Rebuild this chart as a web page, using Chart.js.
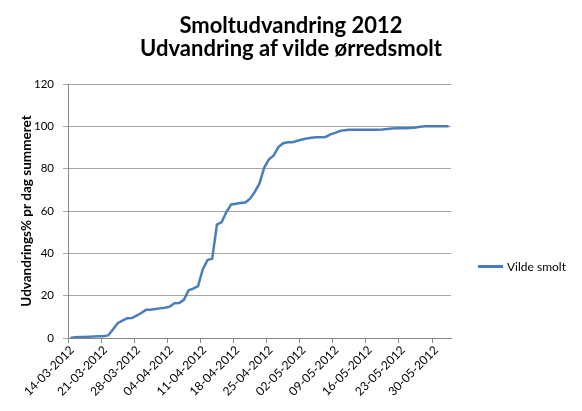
<!DOCTYPE html>
<html><head><meta charset="utf-8">
<script src="https://cdn.jsdelivr.net/npm/chart.js@4"></script>
<style>
html,body{margin:0;padding:0;background:#fff;width:582px;height:411px;overflow:hidden}
#wrap{position:relative;width:582px;height:411px}
#title{position:absolute;left:0;top:0;width:582px;text-align:center;font:bold 22px Lato,sans-serif;color:#000;line-height:23px;padding-top:13px}
#legend{position:absolute;left:478px;top:259px;font:12px Lato,sans-serif;color:#000;display:flex;align-items:center;white-space:nowrap}
#legend .l{display:inline-block;width:25px;height:3px;background:#4a7ebb;margin-right:4px}
</style></head><body>
<div id="wrap"><canvas id="c" width="582" height="411"></canvas>
<div id="title"></div>
<div id="legend"><span class="l"></span><span id="legtxt"></span></div></div>
<script>
const titleLines = ['Smoltudvandring 2012', 'Udvandring af vilde ørredsmolt'];
const yTitle = 'Udvandrings% pr dag summeret';
const seriesName = 'Vilde smolt';
const dates = [
 '14-03-2012','15-03-2012','16-03-2012','17-03-2012','18-03-2012','19-03-2012','20-03-2012',
 '21-03-2012','22-03-2012','23-03-2012','24-03-2012','25-03-2012','26-03-2012','27-03-2012',
 '28-03-2012','29-03-2012','30-03-2012','31-03-2012','01-04-2012','02-04-2012','03-04-2012',
 '04-04-2012','05-04-2012','06-04-2012','07-04-2012','08-04-2012','09-04-2012','10-04-2012',
 '11-04-2012','12-04-2012','13-04-2012','14-04-2012','15-04-2012','16-04-2012','17-04-2012',
 '18-04-2012','19-04-2012','20-04-2012','21-04-2012','22-04-2012','23-04-2012','24-04-2012',
 '25-04-2012','26-04-2012','27-04-2012','28-04-2012','29-04-2012','30-04-2012','01-05-2012',
 '02-05-2012','03-05-2012','04-05-2012','05-05-2012','06-05-2012','07-05-2012','08-05-2012',
 '09-05-2012','10-05-2012','11-05-2012','12-05-2012','13-05-2012','14-05-2012','15-05-2012',
 '16-05-2012','17-05-2012','18-05-2012','19-05-2012','20-05-2012','21-05-2012','22-05-2012',
 '23-05-2012','24-05-2012','25-05-2012','26-05-2012','27-05-2012','28-05-2012','29-05-2012',
 '30-05-2012','31-05-2012','01-06-2012','02-06-2012'
];
const tickLabels = ['14-03-2012','21-03-2012','28-03-2012','04-04-2012','11-04-2012','18-04-2012',
 '25-04-2012','02-05-2012','09-05-2012','16-05-2012','23-05-2012','30-05-2012'];
const values = [
 0,0.4,0.5,0.5,0.6,0.7,0.8,0.8,1.2,4,
 7,8.2,9.3,9.4,10.6,11.8,13.3,13.4,13.7,14,
 14.3,14.8,16.4,16.5,18,22.5,23.3,24.5,32.4,36.8,
 37.5,53.6,54.8,59.5,63.1,63.4,63.8,64,65.8,69,
 73,80.5,84.4,86.2,90.2,92,92.5,92.5,93.2,93.8,
 94.3,94.6,94.8,94.9,95,96.2,96.9,97.8,98.2,98.4,
 98.4,98.4,98.4,98.4,98.4,98.4,98.5,98.7,99,99.1,
 99.1,99.1,99.2,99.4,99.8,100,100,100,100,100,
 100
];
const yMin = 0, yMax = 120, yStep = 20;

document.getElementById('legtxt').textContent = seriesName;
const t = document.getElementById('title');
titleLines.forEach(line => { const d = document.createElement('div'); d.textContent = line; t.appendChild(d); });

new Chart(document.getElementById('c'), {
  type: 'line',
  data: {
    datasets: [{
      label: seriesName,
      data: values.map((v, i) => ({x: i + 0.5, y: v})),
      borderColor: '#4a7ebb',
      borderWidth: 2.5,
      pointRadius: 0,
      tension: 0,
      fill: false
    }]
  },
  options: {
    responsive: false,
    animation: false,
    layout: {padding: {left: 0, right: 131, top: 84, bottom: 0}},
    plugins: {
      legend: {display: false},
      tooltip: {enabled: false},
      title: {display: false}
    },
    scales: {
      x: {
        type: 'linear',
        min: 0,
        max: dates.length,
        afterBuildTicks: s => { s.ticks = tickLabels.map(l => ({value: dates.indexOf(l)})); },
        afterFit: s => { s.height = 73; },
        ticks: {
          autoSkip: false,
          minRotation: 45, maxRotation: 45,
          padding: 0,
          labelOffset: 4,
          color: '#000',
          font: {family: 'Lato', size: 12},
          callback: v => dates[v]
        },
        grid: {drawOnChartArea: false, tickLength: 5, color: '#868686'},
        border: {color: '#868686'}
      },
      y: {
        min: yMin, max: yMax,
        afterFit: s => { s.width = 68; },
        ticks: {stepSize: yStep, color: '#000', font: {family: 'Lato', size: 11.5}, padding: 9},
        grid: {color: '#a6a6a6', tickLength: 5},
        border: {color: '#868686'},
        title: {
          display: true, text: yTitle, color: '#000',
          font: {family: 'Lato', size: 13.5, weight: 'bold'},
          padding: {top: 19, bottom: 0}
        }
      }
    }
  }
});
</script>
</body></html>
